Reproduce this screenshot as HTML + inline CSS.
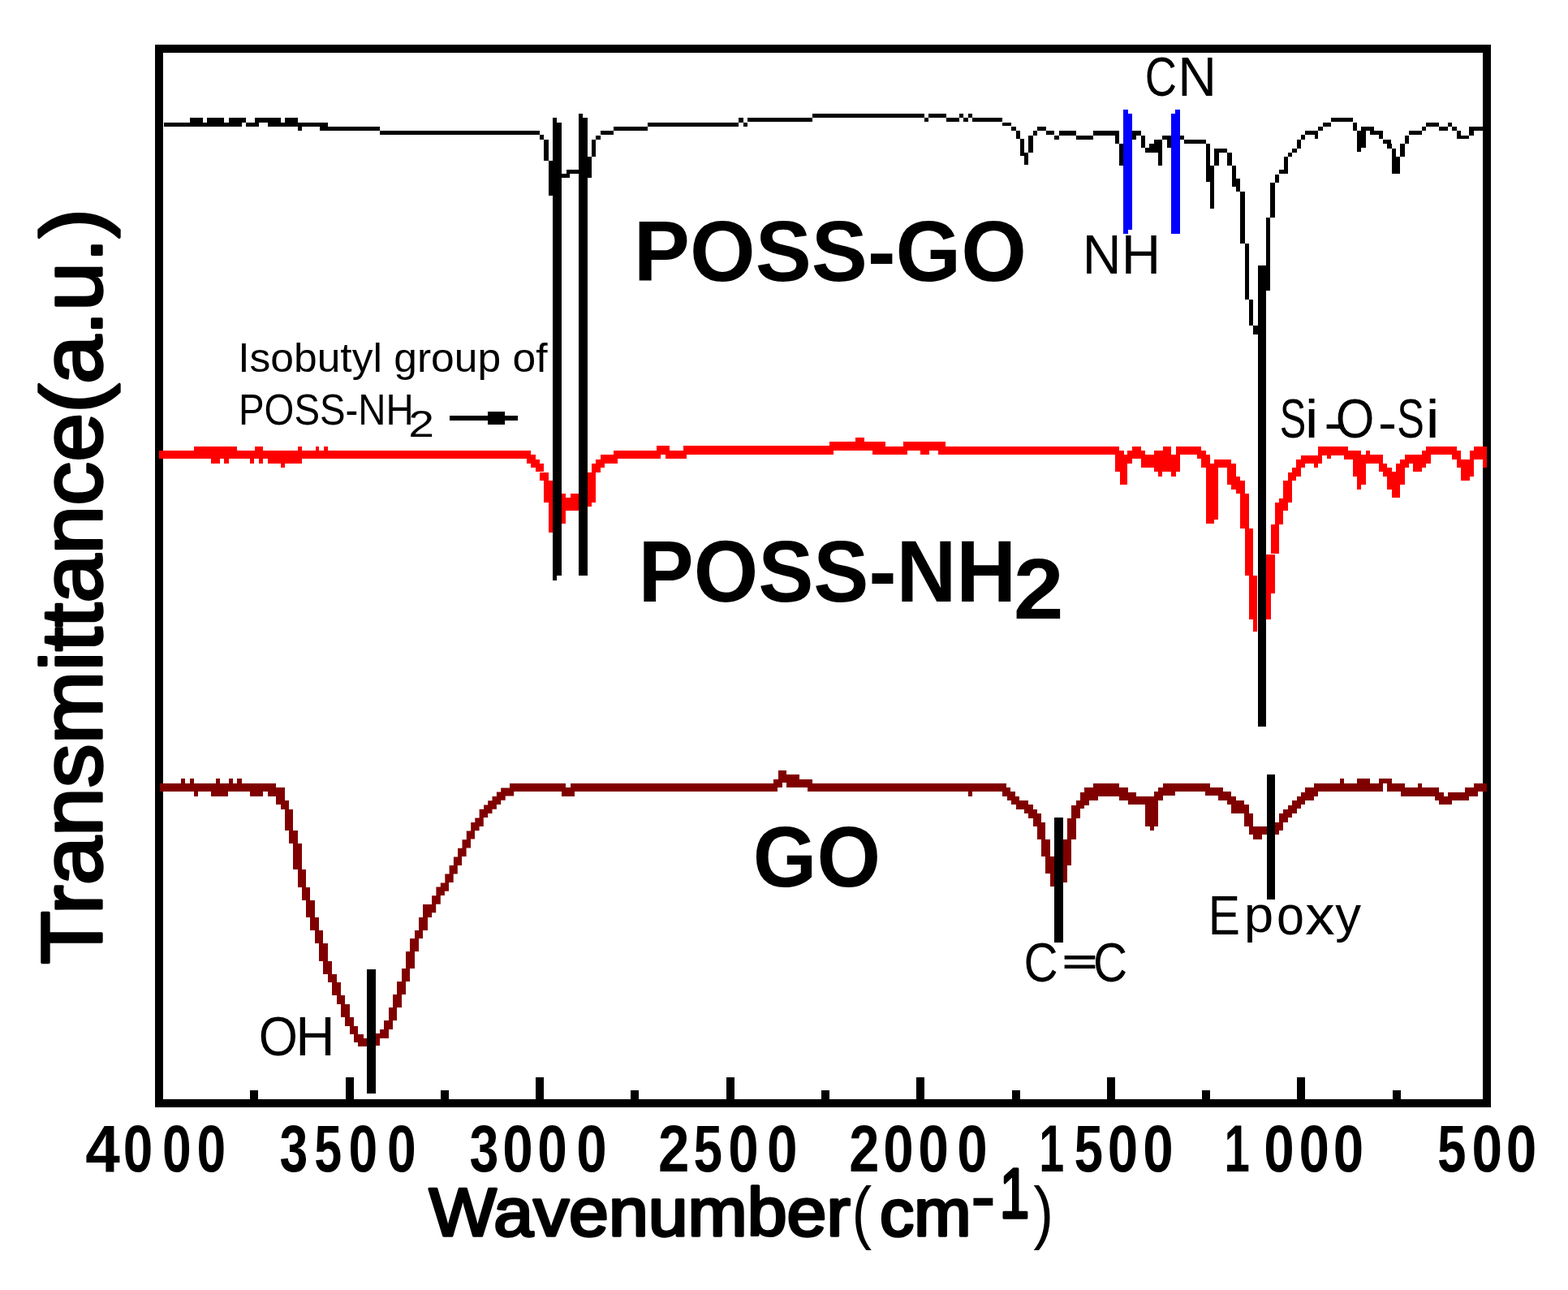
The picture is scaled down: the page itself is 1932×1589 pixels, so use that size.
<!DOCTYPE html>
<html><head><meta charset="utf-8"><title>FTIR spectra</title>
<style>html,body{margin:0;padding:0;background:#fff;overflow:hidden}svg{display:block}</style>
</head><body>
<svg width="1932" height="1589" viewBox="0 0 1932 1589" font-family="Liberation Sans, Arial, sans-serif">
<rect width="1932" height="1589" fill="#fff"/>
<g shape-rendering="crispEdges">
<rect x="191.0" y="55.0" width="1646.0" height="10.0" fill="#000"/>
<rect x="191.0" y="1353.5" width="1646.0" height="10.0" fill="#000"/>
<rect x="191.0" y="55.0" width="10.0" height="1308.5" fill="#000"/>
<rect x="1827.0" y="55.0" width="10.0" height="1308.5" fill="#000"/>
<rect x="308.3" y="1342.5" width="10.0" height="11.5" fill="#000"/>
<rect x="425.6" y="1326.5" width="10.0" height="27.5" fill="#000"/>
<rect x="542.9" y="1342.5" width="10.0" height="11.5" fill="#000"/>
<rect x="660.1" y="1326.5" width="10.0" height="27.5" fill="#000"/>
<rect x="777.4" y="1342.5" width="10.0" height="11.5" fill="#000"/>
<rect x="894.7" y="1326.5" width="10.0" height="27.5" fill="#000"/>
<rect x="1012.0" y="1342.5" width="10.0" height="11.5" fill="#000"/>
<rect x="1129.3" y="1326.5" width="10.0" height="27.5" fill="#000"/>
<rect x="1246.6" y="1342.5" width="10.0" height="11.5" fill="#000"/>
<rect x="1363.8" y="1326.5" width="10.0" height="27.5" fill="#000"/>
<rect x="1481.1" y="1342.5" width="10.0" height="11.5" fill="#000"/>
<rect x="1598.4" y="1326.5" width="10.0" height="27.5" fill="#000"/>
<rect x="1715.7" y="1342.5" width="10.0" height="11.5" fill="#000"/>
<rect x="201.8" y="150.5" width="95.7" height="5.1" fill="#000"/>
<rect x="303.0" y="150.5" width="16.0" height="5.1" fill="#000"/>
<rect x="329.7" y="150.5" width="74.3" height="5.1" fill="#000"/>
<rect x="233.7" y="145.0" width="16.0" height="5.5" fill="#000"/>
<rect x="255.0" y="145.0" width="21.4" height="5.5" fill="#000"/>
<rect x="281.8" y="145.0" width="21.2" height="5.5" fill="#000"/>
<rect x="314.0" y="145.0" width="32.0" height="5.5" fill="#000"/>
<rect x="351.0" y="145.0" width="16.0" height="5.5" fill="#000"/>
<rect x="367.0" y="155.6" width="5.0" height="5.2" fill="#000"/>
<rect x="393.7" y="155.6" width="74.3" height="5.2" fill="#000"/>
<rect x="468.0" y="161.0" width="197.0" height="5.0" fill="#000"/>
<rect x="665.0" y="166.0" width="5.4" height="5.5" fill="#000"/>
<rect x="670.4" y="171.5" width="5.4" height="26.5" fill="#000"/>
<rect x="675.8" y="198.0" width="5.5" height="43.0" fill="#000"/>
<rect x="691.8" y="214.0" width="10.2" height="5.0" fill="#000"/>
<rect x="697.6" y="209.0" width="15.4" height="5.0" fill="#000"/>
<rect x="723.7" y="193.0" width="5.3" height="26.0" fill="#000"/>
<rect x="729.0" y="172.0" width="5.0" height="21.0" fill="#000"/>
<rect x="734.0" y="166.6" width="6.0" height="5.4" fill="#000"/>
<rect x="740.0" y="161.0" width="16.0" height="5.0" fill="#000"/>
<rect x="756.0" y="156.0" width="42.0" height="5.0" fill="#000"/>
<rect x="798.0" y="150.6" width="112.0" height="5.1" fill="#000"/>
<rect x="910.0" y="145.0" width="5.6" height="5.6" fill="#000"/>
<rect x="915.6" y="150.6" width="5.4" height="5.1" fill="#000"/>
<rect x="921.0" y="145.0" width="80.0" height="5.3" fill="#000"/>
<rect x="1001.0" y="140.3" width="138.0" height="4.7" fill="#000"/>
<rect x="1139.0" y="145.0" width="5.4" height="5.0" fill="#000"/>
<rect x="1144.4" y="140.3" width="21.4" height="4.7" fill="#000"/>
<rect x="1165.8" y="145.4" width="15.9" height="4.6" fill="#000"/>
<rect x="1181.7" y="140.3" width="5.3" height="4.7" fill="#000"/>
<rect x="1187.0" y="145.4" width="5.5" height="4.6" fill="#000"/>
<rect x="1192.5" y="140.3" width="5.5" height="4.7" fill="#000"/>
<rect x="1198.0" y="145.4" width="37.0" height="4.6" fill="#000"/>
<rect x="1235.0" y="150.7" width="11.0" height="4.6" fill="#000"/>
<rect x="1246.0" y="155.8" width="5.5" height="5.2" fill="#000"/>
<rect x="1251.5" y="161.0" width="5.5" height="10.3" fill="#000"/>
<rect x="1257.0" y="171.3" width="5.4" height="21.0" fill="#000"/>
<rect x="1262.4" y="187.6" width="5.0" height="15.6" fill="#000"/>
<rect x="1267.4" y="166.7" width="5.1" height="20.9" fill="#000"/>
<rect x="1272.5" y="161.2" width="5.5" height="5.5" fill="#000"/>
<rect x="1278.0" y="155.8" width="10.5" height="5.4" fill="#000"/>
<rect x="1288.5" y="161.2" width="10.5" height="5.0" fill="#000"/>
<rect x="1299.0" y="166.6" width="5.5" height="5.2" fill="#000"/>
<rect x="1304.5" y="161.4" width="21.2" height="5.2" fill="#000"/>
<rect x="1325.7" y="166.6" width="21.3" height="5.2" fill="#000"/>
<rect x="1347.0" y="161.4" width="32.0" height="5.2" fill="#000"/>
<rect x="1374.0" y="166.0" width="5.0" height="11.0" fill="#000"/>
<rect x="1379.0" y="177.0" width="5.2" height="26.8" fill="#000"/>
<rect x="1395.0" y="161.4" width="5.0" height="10.4" fill="#000"/>
<rect x="1400.0" y="161.4" width="5.7" height="5.2" fill="#000"/>
<rect x="1405.7" y="166.6" width="5.3" height="15.4" fill="#000"/>
<rect x="1411.0" y="182.0" width="5.3" height="5.8" fill="#000"/>
<rect x="1416.3" y="177.0" width="5.7" height="10.8" fill="#000"/>
<rect x="1422.0" y="171.8" width="5.0" height="16.0" fill="#000"/>
<rect x="1427.0" y="171.8" width="5.3" height="31.8" fill="#000"/>
<rect x="1432.3" y="166.6" width="5.2" height="5.2" fill="#000"/>
<rect x="1437.5" y="166.6" width="5.5" height="15.4" fill="#000"/>
<rect x="1453.8" y="166.6" width="5.2" height="5.2" fill="#000"/>
<rect x="1459.0" y="172.3" width="26.6" height="4.7" fill="#000"/>
<rect x="1485.6" y="177.0" width="5.4" height="47.4" fill="#000"/>
<rect x="1491.0" y="203.7" width="5.0" height="52.9" fill="#000"/>
<rect x="1496.0" y="183.0" width="5.7" height="20.7" fill="#000"/>
<rect x="1496.0" y="183.0" width="15.7" height="4.6" fill="#000"/>
<rect x="1511.7" y="187.6" width="6.1" height="16.1" fill="#000"/>
<rect x="1517.8" y="203.7" width="5.2" height="26.3" fill="#000"/>
<rect x="1523.0" y="219.7" width="5.0" height="16.1" fill="#000"/>
<rect x="1528.0" y="235.8" width="5.8" height="63.8" fill="#000"/>
<rect x="1533.8" y="299.6" width="5.2" height="69.4" fill="#000"/>
<rect x="1539.0" y="369.0" width="5.2" height="32.0" fill="#000"/>
<rect x="1544.2" y="401.0" width="5.8" height="10.5" fill="#000"/>
<rect x="1560.0" y="268.0" width="5.4" height="89.6" fill="#000"/>
<rect x="1565.4" y="225.4" width="5.3" height="42.6" fill="#000"/>
<rect x="1570.7" y="215.0" width="5.3" height="10.4" fill="#000"/>
<rect x="1576.0" y="209.0" width="10.7" height="5.0" fill="#000"/>
<rect x="1582.0" y="193.3" width="4.7" height="20.7" fill="#000"/>
<rect x="1586.7" y="187.6" width="5.7" height="5.7" fill="#000"/>
<rect x="1592.4" y="182.5" width="5.1" height="5.1" fill="#000"/>
<rect x="1597.5" y="172.0" width="5.3" height="10.5" fill="#000"/>
<rect x="1602.8" y="166.3" width="5.2" height="5.7" fill="#000"/>
<rect x="1608.0" y="161.2" width="15.6" height="5.1" fill="#000"/>
<rect x="1620.0" y="166.0" width="4.0" height="5.0" fill="#000"/>
<rect x="1624.0" y="156.4" width="6.0" height="4.8" fill="#000"/>
<rect x="1630.0" y="151.0" width="10.3" height="4.6" fill="#000"/>
<rect x="1640.3" y="145.2" width="26.4" height="5.2" fill="#000"/>
<rect x="1666.7" y="151.0" width="5.5" height="9.8" fill="#000"/>
<rect x="1672.2" y="161.0" width="5.1" height="26.4" fill="#000"/>
<rect x="1677.3" y="156.4" width="5.4" height="25.6" fill="#000"/>
<rect x="1682.7" y="156.4" width="10.3" height="4.9" fill="#000"/>
<rect x="1688.0" y="161.3" width="16.0" height="4.9" fill="#000"/>
<rect x="1699.0" y="166.0" width="5.0" height="5.3" fill="#000"/>
<rect x="1704.0" y="172.0" width="10.2" height="4.5" fill="#000"/>
<rect x="1709.0" y="176.5" width="5.8" height="6.0" fill="#000"/>
<rect x="1714.8" y="182.5" width="5.4" height="31.0" fill="#000"/>
<rect x="1720.2" y="192.8" width="4.8" height="20.7" fill="#000"/>
<rect x="1725.0" y="177.0" width="5.5" height="15.8" fill="#000"/>
<rect x="1730.5" y="166.7" width="5.5" height="10.3" fill="#000"/>
<rect x="1736.0" y="161.3" width="15.7" height="4.7" fill="#000"/>
<rect x="1751.7" y="155.9" width="5.5" height="5.4" fill="#000"/>
<rect x="1757.2" y="150.8" width="15.8" height="5.1" fill="#000"/>
<rect x="1773.0" y="155.9" width="10.8" height="4.9" fill="#000"/>
<rect x="1783.8" y="150.8" width="5.4" height="5.1" fill="#000"/>
<rect x="1789.2" y="155.9" width="5.5" height="4.9" fill="#000"/>
<rect x="1794.7" y="161.3" width="4.9" height="9.7" fill="#000"/>
<rect x="1799.6" y="166.7" width="10.8" height="4.3" fill="#000"/>
<rect x="1810.4" y="156.4" width="5.5" height="10.3" fill="#000"/>
<rect x="1815.9" y="156.4" width="11.1" height="4.4" fill="#000"/>
<rect x="196.0" y="555.2" width="458.0" height="10.2" fill="#f00"/>
<rect x="239.0" y="549.8" width="53.0" height="5.4" fill="#f00"/>
<rect x="313.8" y="549.8" width="10.2" height="5.4" fill="#f00"/>
<rect x="367.0" y="549.8" width="4.7" height="5.4" fill="#f00"/>
<rect x="388.5" y="549.8" width="4.5" height="5.4" fill="#f00"/>
<rect x="399.0" y="549.8" width="5.0" height="5.4" fill="#f00"/>
<rect x="260.0" y="565.4" width="10.8" height="5.2" fill="#f00"/>
<rect x="276.0" y="565.4" width="5.5" height="5.2" fill="#f00"/>
<rect x="308.4" y="565.4" width="4.6" height="5.2" fill="#f00"/>
<rect x="319.0" y="565.4" width="5.0" height="5.2" fill="#f00"/>
<rect x="330.0" y="565.4" width="41.7" height="5.2" fill="#f00"/>
<rect x="345.5" y="570.6" width="5.3" height="5.2" fill="#f00"/>
<rect x="649.0" y="560.0" width="11.0" height="10.7" fill="#f00"/>
<rect x="654.3" y="565.7" width="10.7" height="10.3" fill="#f00"/>
<rect x="660.0" y="571.0" width="10.4" height="10.0" fill="#f00"/>
<rect x="665.0" y="581.5" width="11.0" height="10.5" fill="#f00"/>
<rect x="670.4" y="592.0" width="10.9" height="26.5" fill="#f00"/>
<rect x="676.0" y="618.5" width="5.3" height="37.3" fill="#f00"/>
<rect x="691.8" y="608.0" width="5.2" height="37.0" fill="#f00"/>
<rect x="697.0" y="613.0" width="16.0" height="16.4" fill="#f00"/>
<rect x="702.5" y="608.0" width="10.5" height="5.0" fill="#f00"/>
<rect x="723.7" y="581.5" width="5.2" height="42.5" fill="#f00"/>
<rect x="728.9" y="571.0" width="5.4" height="47.5" fill="#f00"/>
<rect x="734.3" y="565.7" width="5.5" height="15.8" fill="#f00"/>
<rect x="739.8" y="560.0" width="5.2" height="16.0" fill="#f00"/>
<rect x="745.0" y="560.0" width="16.0" height="10.7" fill="#f00"/>
<rect x="755.8" y="555.0" width="57.8" height="10.3" fill="#f00"/>
<rect x="809.0" y="549.4" width="15.8" height="10.3" fill="#f00"/>
<rect x="820.0" y="555.0" width="26.0" height="10.3" fill="#f00"/>
<rect x="841.5" y="549.4" width="185.5" height="10.3" fill="#f00"/>
<rect x="1022.0" y="544.2" width="69.0" height="10.3" fill="#f00"/>
<rect x="1054.0" y="539.0" width="11.0" height="5.2" fill="#f00"/>
<rect x="1075.4" y="549.6" width="42.6" height="10.2" fill="#f00"/>
<rect x="1113.0" y="544.4" width="52.4" height="10.1" fill="#f00"/>
<rect x="1134.0" y="554.5" width="10.6" height="5.3" fill="#f00"/>
<rect x="1155.5" y="549.7" width="223.5" height="10.1" fill="#f00"/>
<rect x="1374.0" y="554.5" width="10.5" height="26.5" fill="#f00"/>
<rect x="1379.7" y="560.0" width="9.7" height="37.0" fill="#f00"/>
<rect x="1389.4" y="555.3" width="5.8" height="15.5" fill="#f00"/>
<rect x="1395.2" y="549.8" width="10.4" height="15.6" fill="#f00"/>
<rect x="1405.6" y="555.3" width="5.4" height="20.5" fill="#f00"/>
<rect x="1411.0" y="560.4" width="10.6" height="15.4" fill="#f00"/>
<rect x="1421.6" y="555.3" width="10.9" height="26.1" fill="#f00"/>
<rect x="1427.0" y="581.4" width="5.0" height="5.2" fill="#f00"/>
<rect x="1432.5" y="549.8" width="10.4" height="31.6" fill="#f00"/>
<rect x="1442.9" y="560.4" width="5.6" height="26.2" fill="#f00"/>
<rect x="1448.5" y="549.8" width="5.2" height="31.6" fill="#f00"/>
<rect x="1453.7" y="549.8" width="21.3" height="10.4" fill="#f00"/>
<rect x="1475.0" y="549.8" width="5.0" height="15.6" fill="#f00"/>
<rect x="1480.0" y="555.3" width="5.8" height="20.5" fill="#f00"/>
<rect x="1485.8" y="560.4" width="5.2" height="84.8" fill="#f00"/>
<rect x="1491.0" y="571.0" width="5.2" height="74.2" fill="#f00"/>
<rect x="1496.2" y="565.7" width="5.2" height="74.0" fill="#f00"/>
<rect x="1501.4" y="565.7" width="10.8" height="10.3" fill="#f00"/>
<rect x="1512.2" y="565.7" width="5.2" height="31.5" fill="#f00"/>
<rect x="1517.4" y="571.0" width="5.2" height="31.7" fill="#f00"/>
<rect x="1522.6" y="587.0" width="5.2" height="20.9" fill="#f00"/>
<rect x="1527.8" y="592.3" width="5.7" height="58.5" fill="#f00"/>
<rect x="1533.5" y="608.3" width="5.2" height="42.5" fill="#f00"/>
<rect x="1533.5" y="651.0" width="10.7" height="58.0" fill="#f00"/>
<rect x="1539.0" y="709.0" width="10.4" height="53.6" fill="#f00"/>
<rect x="1544.2" y="762.6" width="5.2" height="15.4" fill="#f00"/>
<rect x="1560.2" y="683.0" width="5.3" height="79.6" fill="#f00"/>
<rect x="1560.2" y="683.0" width="10.5" height="47.7" fill="#f00"/>
<rect x="1565.5" y="645.6" width="10.5" height="36.8" fill="#f00"/>
<rect x="1570.7" y="619.4" width="10.6" height="26.2" fill="#f00"/>
<rect x="1576.0" y="613.6" width="10.7" height="15.6" fill="#f00"/>
<rect x="1581.3" y="592.4" width="10.7" height="26.2" fill="#f00"/>
<rect x="1586.7" y="581.7" width="10.7" height="10.7" fill="#f00"/>
<rect x="1592.0" y="576.3" width="10.8" height="10.3" fill="#f00"/>
<rect x="1597.4" y="565.9" width="10.6" height="10.4" fill="#f00"/>
<rect x="1602.8" y="560.5" width="26.5" height="10.5" fill="#f00"/>
<rect x="1619.0" y="571.0" width="5.0" height="5.0" fill="#f00"/>
<rect x="1624.4" y="549.8" width="36.6" height="10.7" fill="#f00"/>
<rect x="1635.0" y="560.5" width="5.0" height="4.9" fill="#f00"/>
<rect x="1650.0" y="549.7" width="11.0" height="10.7" fill="#f00"/>
<rect x="1656.0" y="555.2" width="21.3" height="10.5" fill="#f00"/>
<rect x="1666.7" y="565.7" width="15.9" height="20.9" fill="#f00"/>
<rect x="1672.0" y="586.6" width="10.6" height="10.5" fill="#f00"/>
<rect x="1672.0" y="597.1" width="5.3" height="5.5" fill="#f00"/>
<rect x="1682.6" y="555.2" width="5.3" height="10.5" fill="#f00"/>
<rect x="1677.3" y="560.4" width="26.6" height="10.5" fill="#f00"/>
<rect x="1698.5" y="570.9" width="10.5" height="10.3" fill="#f00"/>
<rect x="1703.9" y="576.1" width="10.8" height="10.5" fill="#f00"/>
<rect x="1709.0" y="581.2" width="5.7" height="21.4" fill="#f00"/>
<rect x="1714.7" y="581.2" width="10.5" height="32.0" fill="#f00"/>
<rect x="1720.0" y="570.9" width="10.6" height="26.2" fill="#f00"/>
<rect x="1725.2" y="565.7" width="10.5" height="10.4" fill="#f00"/>
<rect x="1730.6" y="560.4" width="16.3" height="10.5" fill="#f00"/>
<rect x="1741.4" y="565.7" width="10.6" height="15.5" fill="#f00"/>
<rect x="1746.9" y="560.4" width="10.3" height="15.7" fill="#f00"/>
<rect x="1752.0" y="555.2" width="10.6" height="15.7" fill="#f00"/>
<rect x="1757.2" y="549.7" width="37.3" height="10.7" fill="#f00"/>
<rect x="1789.1" y="555.2" width="10.9" height="10.5" fill="#f00"/>
<rect x="1794.5" y="560.4" width="5.5" height="15.7" fill="#f00"/>
<rect x="1800.0" y="565.7" width="10.8" height="26.1" fill="#f00"/>
<rect x="1810.8" y="555.2" width="5.2" height="31.4" fill="#f00"/>
<rect x="1816.0" y="549.7" width="15.7" height="16.0" fill="#f00"/>
<rect x="1827.0" y="565.7" width="4.7" height="10.4" fill="#f00"/>
<rect x="196.5" y="965.0" width="143.5" height="10.4" fill="#800000"/>
<rect x="223.0" y="959.3" width="5.0" height="5.7" fill="#800000"/>
<rect x="233.8" y="959.3" width="5.0" height="5.7" fill="#800000"/>
<rect x="265.8" y="959.3" width="5.2" height="5.7" fill="#800000"/>
<rect x="281.7" y="959.3" width="5.0" height="5.7" fill="#800000"/>
<rect x="292.0" y="959.3" width="5.5" height="5.7" fill="#800000"/>
<rect x="239.0" y="975.4" width="5.0" height="5.3" fill="#800000"/>
<rect x="260.0" y="975.4" width="21.4" height="5.3" fill="#800000"/>
<rect x="308.0" y="975.4" width="16.0" height="5.3" fill="#800000"/>
<rect x="329.5" y="975.4" width="10.5" height="5.3" fill="#800000"/>
<rect x="340.0" y="970.4" width="10.7" height="20.6" fill="#800000"/>
<rect x="346.0" y="986.0" width="10.0" height="10.5" fill="#800000"/>
<rect x="351.3" y="996.5" width="10.1" height="26.5" fill="#800000"/>
<rect x="356.0" y="1023.0" width="10.8" height="16.0" fill="#800000"/>
<rect x="361.4" y="1039.0" width="10.6" height="32.0" fill="#800000"/>
<rect x="366.8" y="1071.0" width="10.5" height="21.6" fill="#800000"/>
<rect x="372.0" y="1092.6" width="10.4" height="16.1" fill="#800000"/>
<rect x="377.3" y="1108.7" width="10.5" height="21.3" fill="#800000"/>
<rect x="382.4" y="1130.0" width="10.6" height="16.0" fill="#800000"/>
<rect x="387.8" y="1146.0" width="10.6" height="16.0" fill="#800000"/>
<rect x="393.0" y="1162.0" width="10.8" height="21.5" fill="#800000"/>
<rect x="398.4" y="1183.5" width="10.6" height="16.1" fill="#800000"/>
<rect x="403.8" y="1199.6" width="10.7" height="10.4" fill="#800000"/>
<rect x="409.0" y="1210.0" width="11.0" height="16.0" fill="#800000"/>
<rect x="414.5" y="1226.0" width="10.5" height="11.0" fill="#800000"/>
<rect x="420.0" y="1237.0" width="10.5" height="16.0" fill="#800000"/>
<rect x="425.0" y="1253.0" width="11.0" height="10.7" fill="#800000"/>
<rect x="430.5" y="1263.7" width="10.5" height="10.7" fill="#800000"/>
<rect x="436.0" y="1274.4" width="11.7" height="9.1" fill="#800000"/>
<rect x="441.0" y="1279.0" width="11.0" height="10.0" fill="#800000"/>
<rect x="462.6" y="1273.0" width="5.4" height="15.3" fill="#800000"/>
<rect x="468.0" y="1268.0" width="10.7" height="10.7" fill="#800000"/>
<rect x="473.3" y="1257.0" width="10.7" height="11.0" fill="#800000"/>
<rect x="478.7" y="1241.0" width="10.7" height="16.0" fill="#800000"/>
<rect x="484.0" y="1225.0" width="10.7" height="16.0" fill="#800000"/>
<rect x="489.4" y="1209.0" width="10.6" height="16.0" fill="#800000"/>
<rect x="494.7" y="1193.0" width="10.7" height="16.0" fill="#800000"/>
<rect x="500.0" y="1171.8" width="10.7" height="21.2" fill="#800000"/>
<rect x="505.4" y="1155.7" width="10.6" height="16.1" fill="#800000"/>
<rect x="510.7" y="1146.0" width="10.7" height="9.7" fill="#800000"/>
<rect x="516.0" y="1130.0" width="10.8" height="16.0" fill="#800000"/>
<rect x="521.4" y="1114.0" width="8.6" height="16.0" fill="#800000"/>
<rect x="628.4" y="965.0" width="68.6" height="10.0" fill="#800000"/>
<rect x="692.0" y="970.0" width="15.7" height="10.6" fill="#800000"/>
<rect x="702.6" y="965.0" width="255.2" height="10.0" fill="#800000"/>
<rect x="953.0" y="959.5" width="11.0" height="10.1" fill="#800000"/>
<rect x="958.5" y="949.0" width="10.1" height="15.0" fill="#800000"/>
<rect x="968.6" y="954.0" width="16.4" height="15.6" fill="#800000"/>
<rect x="979.5" y="959.5" width="21.5" height="10.3" fill="#800000"/>
<rect x="995.4" y="964.8" width="244.6" height="10.6" fill="#800000"/>
<rect x="1192.6" y="975.4" width="5.4" height="5.3" fill="#800000"/>
<rect x="1235.0" y="970.0" width="10.4" height="10.7" fill="#800000"/>
<rect x="1240.8" y="975.4" width="10.2" height="10.4" fill="#800000"/>
<rect x="1246.0" y="980.7" width="10.0" height="10.5" fill="#800000"/>
<rect x="1251.6" y="986.0" width="15.4" height="10.7" fill="#800000"/>
<rect x="1261.7" y="991.2" width="10.9" height="10.8" fill="#800000"/>
<rect x="1267.0" y="996.7" width="11.0" height="10.9" fill="#800000"/>
<rect x="1272.5" y="1002.3" width="10.5" height="15.7" fill="#800000"/>
<rect x="1277.8" y="1012.8" width="10.6" height="21.2" fill="#800000"/>
<rect x="1283.0" y="1034.0" width="10.7" height="21.0" fill="#800000"/>
<rect x="1288.4" y="1055.0" width="10.6" height="21.3" fill="#800000"/>
<rect x="1293.7" y="1076.3" width="5.3" height="15.7" fill="#800000"/>
<rect x="1310.0" y="1034.0" width="4.8" height="52.8" fill="#800000"/>
<rect x="1310.0" y="1034.0" width="10.4" height="31.7" fill="#800000"/>
<rect x="1314.8" y="1007.6" width="10.9" height="26.4" fill="#800000"/>
<rect x="1320.4" y="991.7" width="10.6" height="15.9" fill="#800000"/>
<rect x="1325.7" y="986.4" width="10.5" height="9.9" fill="#800000"/>
<rect x="1331.0" y="975.9" width="10.5" height="15.8" fill="#800000"/>
<rect x="1336.2" y="970.3" width="16.3" height="15.5" fill="#800000"/>
<rect x="1347.2" y="965.0" width="31.8" height="15.5" fill="#800000"/>
<rect x="1379.0" y="970.3" width="10.5" height="15.5" fill="#800000"/>
<rect x="1389.5" y="975.6" width="10.5" height="15.4" fill="#800000"/>
<rect x="1400.0" y="981.0" width="11.4" height="9.7" fill="#800000"/>
<rect x="1411.4" y="981.0" width="15.4" height="37.0" fill="#800000"/>
<rect x="1416.5" y="1018.0" width="5.1" height="5.0" fill="#800000"/>
<rect x="1421.6" y="975.3" width="10.9" height="10.3" fill="#800000"/>
<rect x="1427.3" y="970.0" width="20.5" height="10.4" fill="#800000"/>
<rect x="1432.5" y="964.8" width="58.5" height="10.5" fill="#800000"/>
<rect x="1485.4" y="970.0" width="21.6" height="10.4" fill="#800000"/>
<rect x="1501.4" y="975.3" width="15.9" height="10.3" fill="#800000"/>
<rect x="1512.0" y="981.0" width="11.0" height="10.3" fill="#800000"/>
<rect x="1517.3" y="986.0" width="16.0" height="15.5" fill="#800000"/>
<rect x="1533.3" y="991.3" width="5.7" height="26.7" fill="#800000"/>
<rect x="1539.0" y="1002.0" width="5.0" height="26.0" fill="#800000"/>
<rect x="1544.0" y="1018.0" width="11.0" height="16.0" fill="#800000"/>
<rect x="1555.0" y="1018.0" width="5.6" height="10.0" fill="#800000"/>
<rect x="1570.8" y="1013.0" width="5.2" height="15.0" fill="#800000"/>
<rect x="1576.0" y="1002.0" width="5.0" height="21.0" fill="#800000"/>
<rect x="1581.0" y="997.0" width="5.8" height="16.0" fill="#800000"/>
<rect x="1586.8" y="991.8" width="5.2" height="15.2" fill="#800000"/>
<rect x="1592.0" y="986.0" width="5.6" height="16.0" fill="#800000"/>
<rect x="1597.6" y="981.0" width="5.1" height="15.4" fill="#800000"/>
<rect x="1602.7" y="976.0" width="5.7" height="15.3" fill="#800000"/>
<rect x="1608.4" y="970.0" width="5.6" height="16.0" fill="#800000"/>
<rect x="1610.0" y="975.5" width="9.0" height="10.3" fill="#800000"/>
<rect x="1613.6" y="970.4" width="10.1" height="10.1" fill="#800000"/>
<rect x="1619.0" y="965.0" width="85.0" height="10.4" fill="#800000"/>
<rect x="1651.0" y="959.3" width="5.0" height="5.7" fill="#800000"/>
<rect x="1672.0" y="959.3" width="16.0" height="5.7" fill="#800000"/>
<rect x="1699.0" y="959.3" width="16.0" height="5.7" fill="#800000"/>
<rect x="1709.4" y="965.0" width="21.4" height="10.4" fill="#800000"/>
<rect x="1725.5" y="970.4" width="47.5" height="10.1" fill="#800000"/>
<rect x="1746.9" y="965.0" width="4.8" height="5.4" fill="#800000"/>
<rect x="1768.3" y="975.5" width="10.2" height="10.3" fill="#800000"/>
<rect x="1773.3" y="980.5" width="15.3" height="10.5" fill="#800000"/>
<rect x="1783.8" y="975.5" width="26.2" height="10.3" fill="#800000"/>
<rect x="1805.0" y="970.4" width="15.7" height="10.1" fill="#800000"/>
<rect x="1816.0" y="965.0" width="15.7" height="10.4" fill="#800000"/>
</g>
<polygon points="516.2,1140.0 516.2,1129.9 521.3,1129.9 521.3,1119.1 527.0,1119.1 527.0,1114.0 532.1,1114.0 532.1,1103.3 537.4,1103.3 537.4,1092.5 542.8,1092.5 542.8,1087.4 548.3,1087.4 548.3,1076.6 553.6,1076.6 553.6,1066.1 558.9,1066.1 558.9,1055.4 564.1,1055.4 564.1,1044.7 569.5,1044.7 569.5,1034.2 574.8,1034.2 574.8,1023.4 580.2,1023.4 580.2,1012.9 585.3,1012.9 585.3,1007.6 590.6,1007.6 590.6,996.8 596.1,996.8 596.1,991.5 601.2,991.5 601.2,986.3 606.5,986.3 606.5,981.0 611.9,981.0 611.9,975.6 617.2,975.6 617.2,970.4 628.1,970.4 628.1,965.1 640.0,965.1 640.0,974.9 633.2,974.9 633.2,980.6 622.7,980.6 622.7,985.8 617.2,985.8 617.2,991.1 611.9,991.1 611.9,996.8 606.5,996.8 606.5,1001.9 601.2,1001.9 601.2,1007.0 595.8,1007.0 595.8,1018.0 590.6,1018.0 590.6,1023.2 585.0,1023.2 585.0,1033.6 580.0,1033.6 580.0,1044.4 574.6,1044.4 574.6,1055.1 569.1,1055.1 569.1,1065.9 563.8,1065.9 563.8,1076.6 558.7,1076.6 558.7,1087.1 553.0,1087.1 553.0,1097.8 547.9,1097.8 547.9,1102.9 542.8,1102.9 542.8,1113.8 537.2,1113.8 537.2,1124.2 532.1,1124.2 532.1,1129.9 526.4,1129.9 526.4,1140.0" fill="#800000"/>
<g shape-rendering="crispEdges">
<rect x="681.1" y="145.0" width="5.2" height="569.5" fill="#000"/>
<rect x="686.3" y="150.6" width="5.4" height="558.1" fill="#000"/>
<rect x="713.1" y="140.0" width="5.3" height="568.7" fill="#000"/>
<rect x="718.4" y="145.0" width="5.3" height="563.7" fill="#000"/>
<rect x="1549.5" y="326.5" width="10.7" height="568.5" fill="#000"/>
<rect x="452.0" y="1193.6" width="10.6" height="153.4" fill="#000"/>
<rect x="1299.0" y="1007.3" width="11.0" height="153.5" fill="#000"/>
<rect x="1560.6" y="954.2" width="10.2" height="153.8" fill="#000"/>
<rect x="1384.2" y="134.5" width="5.4" height="153.5" fill="#00f"/>
<rect x="1389.6" y="140.0" width="5.4" height="143.0" fill="#00f"/>
<rect x="1443.0" y="140.0" width="5.4" height="148.0" fill="#00f"/>
<rect x="1448.4" y="134.5" width="5.4" height="153.5" fill="#00f"/>
<rect x="553.5" y="512.0" width="84.8" height="5.6" fill="#000"/>
<rect x="601.3" y="507.0" width="21.1" height="15.6" fill="#000"/>
</g>
<text transform="translate(780.86,346.20) scale(0.9747,1)" font-size="106.38" font-weight="bold" fill="#000">POSS-GO</text>
<text transform="translate(786.56,740.70) scale(0.9503,1)" font-size="107.54" font-weight="bold" fill="#000">POSS-NH</text>
<text transform="translate(1248.71,761.60) scale(1.0538,1)" font-size="105.57" font-weight="bold" fill="#000">2</text>
<text transform="translate(927.86,1091.50) scale(0.9627,1)" font-size="105.00" font-weight="bold" fill="#000">GO</text>
<text transform="translate(1410.78,118.20) scale(0.8007,1)" font-size="67.86" font-weight="normal" fill="#000">C</text>
<text transform="translate(1451.21,118.20) scale(0.9598,1)" font-size="68.84" font-weight="normal" fill="#000">N</text>
<text transform="translate(1333.71,336.50) scale(0.9598,1)" font-size="68.84" font-weight="normal" fill="#000">N</text>
<text transform="translate(1381.64,336.50) scale(0.9727,1)" font-size="68.84" font-weight="normal" fill="#000">H</text>
<text transform="translate(293.16,458.30) scale(1.0302,1)" font-size="50.07" font-weight="normal" fill="#000">Isobutyl group of</text>
<text transform="translate(294.01,522.60) scale(0.8931,1)" font-size="53.04" font-weight="normal" fill="#000">POSS-NH</text>
<text transform="translate(503.14,538.00) scale(1.2500,1)" font-size="45.71" font-weight="normal" fill="#000">2</text>
<text transform="translate(1576.81,538.80) scale(0.7131,1)" font-size="68.29" font-weight="normal" fill="#000">S</text>
<text transform="translate(1607.79,538.80) scale(1.1460,1)" font-size="65.93" font-weight="normal" fill="#000">i</text>
<text transform="translate(1630.81,543.21) scale(1.3061,1)" font-size="66.25" font-weight="normal" fill="#000">-</text>
<text transform="translate(1645.74,538.80) scale(0.8979,1)" font-size="68.29" font-weight="normal" fill="#000">O</text>
<text transform="translate(1697.88,543.21) scale(1.0474,1)" font-size="66.25" font-weight="normal" fill="#000">-</text>
<text transform="translate(1721.23,538.80) scale(0.7386,1)" font-size="68.29" font-weight="normal" fill="#000">S</text>
<text transform="translate(1756.44,538.80) scale(1.1797,1)" font-size="65.93" font-weight="normal" fill="#000">i</text>
<text transform="translate(1261.59,1209.30) scale(0.8605,1)" font-size="67.71" font-weight="normal" fill="#000">C</text>
<text transform="translate(1308.49,1200.08) scale(1.7330,1)" font-size="43.42" font-weight="bold" fill="#000">=</text>
<text transform="translate(1347.09,1209.30) scale(0.8605,1)" font-size="67.71" font-weight="normal" fill="#000">C</text>
<text transform="translate(1488.80,1150.90) scale(0.8511,1)" font-size="68.99" font-weight="normal" fill="#000">E</text>
<text transform="translate(1532.74,1148.11) scale(1.0439,1)" font-size="62.80" font-weight="normal" fill="#000">p</text>
<text transform="translate(1573.06,1150.90) scale(0.8983,1)" font-size="67.96" font-weight="normal" fill="#000">o</text>
<text transform="translate(1608.27,1150.90) scale(1.0530,1)" font-size="69.25" font-weight="normal" fill="#000">x</text>
<text transform="translate(1645.18,1147.93) scale(0.9998,1)" font-size="63.65" font-weight="normal" fill="#000">y</text>
<text transform="translate(318.71,1299.70) scale(0.9124,1)" font-size="68.00" font-weight="normal" fill="#000">O</text>
<text transform="translate(364.14,1299.70) scale(0.9707,1)" font-size="68.99" font-weight="normal" fill="#000">H</text>
<text transform="translate(105.35,1443.30) scale(0.9297,1)" font-size="82.43" font-weight="bold" fill="#000">4</text>
<text transform="translate(151.67,1443.30) scale(0.7969,1)" font-size="82.43" font-weight="bold" fill="#000">0</text>
<text transform="translate(199.93,1443.30) scale(0.7790,1)" font-size="82.43" font-weight="bold" fill="#000">0</text>
<text transform="translate(242.43,1443.30) scale(0.7790,1)" font-size="82.43" font-weight="bold" fill="#000">0</text>
<text transform="translate(344.43,1443.30) scale(0.7598,1)" font-size="82.43" font-weight="bold" fill="#000">3</text>
<text transform="translate(387.17,1443.30) scale(0.7400,1)" font-size="82.43" font-weight="bold" fill="#000">5</text>
<text transform="translate(429.43,1443.30) scale(0.7790,1)" font-size="82.43" font-weight="bold" fill="#000">0</text>
<text transform="translate(476.93,1443.30) scale(0.7790,1)" font-size="82.43" font-weight="bold" fill="#000">0</text>
<text transform="translate(578.38,1443.30) scale(0.7843,1)" font-size="82.43" font-weight="bold" fill="#000">3</text>
<text transform="translate(619.31,1443.30) scale(0.8173,1)" font-size="82.43" font-weight="bold" fill="#000">0</text>
<text transform="translate(662.37,1443.30) scale(0.7969,1)" font-size="82.43" font-weight="bold" fill="#000">0</text>
<text transform="translate(710.31,1443.30) scale(0.8173,1)" font-size="82.43" font-weight="bold" fill="#000">0</text>
<text transform="translate(810.88,1443.30) scale(0.8391,1)" font-size="82.43" font-weight="bold" fill="#000">2</text>
<text transform="translate(854.58,1443.30) scale(0.7764,1)" font-size="82.43" font-weight="bold" fill="#000">5</text>
<text transform="translate(897.31,1443.30) scale(0.8173,1)" font-size="82.43" font-weight="bold" fill="#000">0</text>
<text transform="translate(945.00,1443.30) scale(0.8198,1)" font-size="82.43" font-weight="bold" fill="#000">0</text>
<text transform="translate(1046.36,1443.30) scale(0.8113,1)" font-size="82.43" font-weight="bold" fill="#000">2</text>
<text transform="translate(1088.31,1443.30) scale(0.8173,1)" font-size="82.43" font-weight="bold" fill="#000">0</text>
<text transform="translate(1131.29,1443.30) scale(0.8224,1)" font-size="82.43" font-weight="bold" fill="#000">0</text>
<text transform="translate(1179.31,1443.30) scale(0.8173,1)" font-size="82.43" font-weight="bold" fill="#000">0</text>
<text transform="translate(1280.16,1443.30) scale(0.6763,1)" font-size="82.43" font-weight="bold" fill="#000">1</text>
<text transform="translate(1323.58,1443.30) scale(0.7764,1)" font-size="82.43" font-weight="bold" fill="#000">5</text>
<text transform="translate(1364.81,1443.30) scale(0.8173,1)" font-size="82.43" font-weight="bold" fill="#000">0</text>
<text transform="translate(1408.31,1443.30) scale(0.8173,1)" font-size="82.43" font-weight="bold" fill="#000">0</text>
<text transform="translate(1508.62,1443.30) scale(0.6840,1)" font-size="82.43" font-weight="bold" fill="#000">1</text>
<text transform="translate(1557.31,1443.30) scale(0.8173,1)" font-size="82.43" font-weight="bold" fill="#000">0</text>
<text transform="translate(1600.61,1443.30) scale(0.8173,1)" font-size="82.43" font-weight="bold" fill="#000">0</text>
<text transform="translate(1642.81,1443.30) scale(0.8173,1)" font-size="82.43" font-weight="bold" fill="#000">0</text>
<text transform="translate(1771.08,1443.30) scale(0.7764,1)" font-size="82.43" font-weight="bold" fill="#000">5</text>
<text transform="translate(1813.50,1443.30) scale(0.8198,1)" font-size="82.43" font-weight="bold" fill="#000">0</text>
<text transform="translate(1855.70,1443.30) scale(0.8198,1)" font-size="82.43" font-weight="bold" fill="#000">0</text>
<text transform="translate(528.66,1521.80) scale(1.0543,1)" font-size="83.31" stroke="#000" stroke-width="3.4" stroke-linejoin="round">Wavenumber</text>
<text transform="translate(1049.46,1521.57) scale(0.8710,1)" font-size="84.92" font-weight="normal" fill="#000">(</text>
<text transform="translate(1084.12,1521.80) scale(1.0428,1)" font-size="80.93" stroke="#000" stroke-width="3.4" stroke-linejoin="round">cm</text>
<text transform="translate(1195.74,1501.47) scale(1.2015,1)" font-size="78.33" font-weight="bold" fill="#000">-</text>
<text transform="translate(1231.77,1500.00) scale(0.7612,1)" font-size="86.38" stroke="#000" stroke-width="3.4" stroke-linejoin="round">1</text>
<text transform="translate(1273.13,1521.57) scale(0.8799,1)" font-size="84.92" font-weight="normal" fill="#000">)</text>
<text transform="translate(125.3,1188.06) rotate(-90) scale(1.0250,1)" font-size="105.22" stroke="#000" stroke-width="3.4" stroke-linejoin="round">Transmittance(a.u.)</text>
</svg>
</body></html>
